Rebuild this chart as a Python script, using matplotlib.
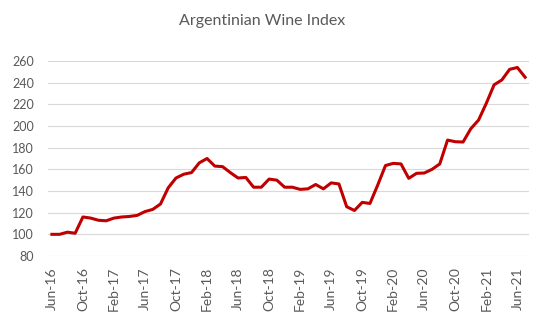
import matplotlib
matplotlib.use("Agg")
import matplotlib.pyplot as plt
import numpy as np

plt.rcParams['font.family'] = ['Lato', 'DejaVu Sans']

# Monthly index values, Jun-16 .. Jul-21
index_values = [100, 100, 102, 101, 116, 115, 113, 112.5, 115, 116,
                116.5, 117.5, 121, 123, 128, 143, 152, 155.5, 157, 166,
                170, 163, 162.5, 157, 152, 152.5, 143.5, 143.5, 151, 150,
                143.5, 143.5, 141.5, 142, 146, 142, 147.5, 146.5, 125.5, 122,
                129.5, 128.5, 145.5, 163.5, 165.5, 165, 151.7, 156.3, 156.6, 160,
                165, 187, 185.5, 185.2, 197.5, 205.5, 221, 238, 242.5, 252.3,
                254, 245]
tick_labels = ['Jun-16', 'Oct-16', 'Feb-17', 'Jun-17', 'Oct-17', 'Feb-18',
               'Jun-18', 'Oct-18', 'Feb-19', 'Jun-19', 'Oct-19', 'Feb-20',
               'Jun-20', 'Oct-20', 'Feb-21', 'Jun-21']
y_ticks = [80, 100, 120, 140, 160, 180, 200, 220, 240, 260]

months = np.arange(len(index_values))

fig = plt.figure(figsize=(5.44, 3.2), dpi=100)
ax = fig.add_axes([48/544, 1 - 256/320, (529 - 48)/544, (256 - 61)/320])

ax.plot(months, index_values, color='#c00000', linewidth=2.2, solid_joinstyle='round')

ax.set_xlim(-0.5, len(index_values) - 0.5)
ax.set_ylim(80, 260)
ax.set_yticks(y_ticks)
ax.set_xticks(np.arange(0, len(index_values), 4))
ax.set_xticklabels(tick_labels, rotation=90)

ax.grid(axis='y', color='#d9d9d9', linewidth=0.8)
ax.set_axisbelow(True)
for s in ax.spines.values():
    s.set_visible(False)
ax.tick_params(axis='both', length=0, labelcolor='#595959')
ax.tick_params(axis='y', pad=10, labelsize=9)
ax.tick_params(axis='x', pad=8, labelsize=10)

fig.text(262/544, 1 - 21/320, 'Argentinian Wine Index', ha='center', va='center',
         fontsize=11.5, color='#595959')

fig.savefig('out.png', dpi=100)
